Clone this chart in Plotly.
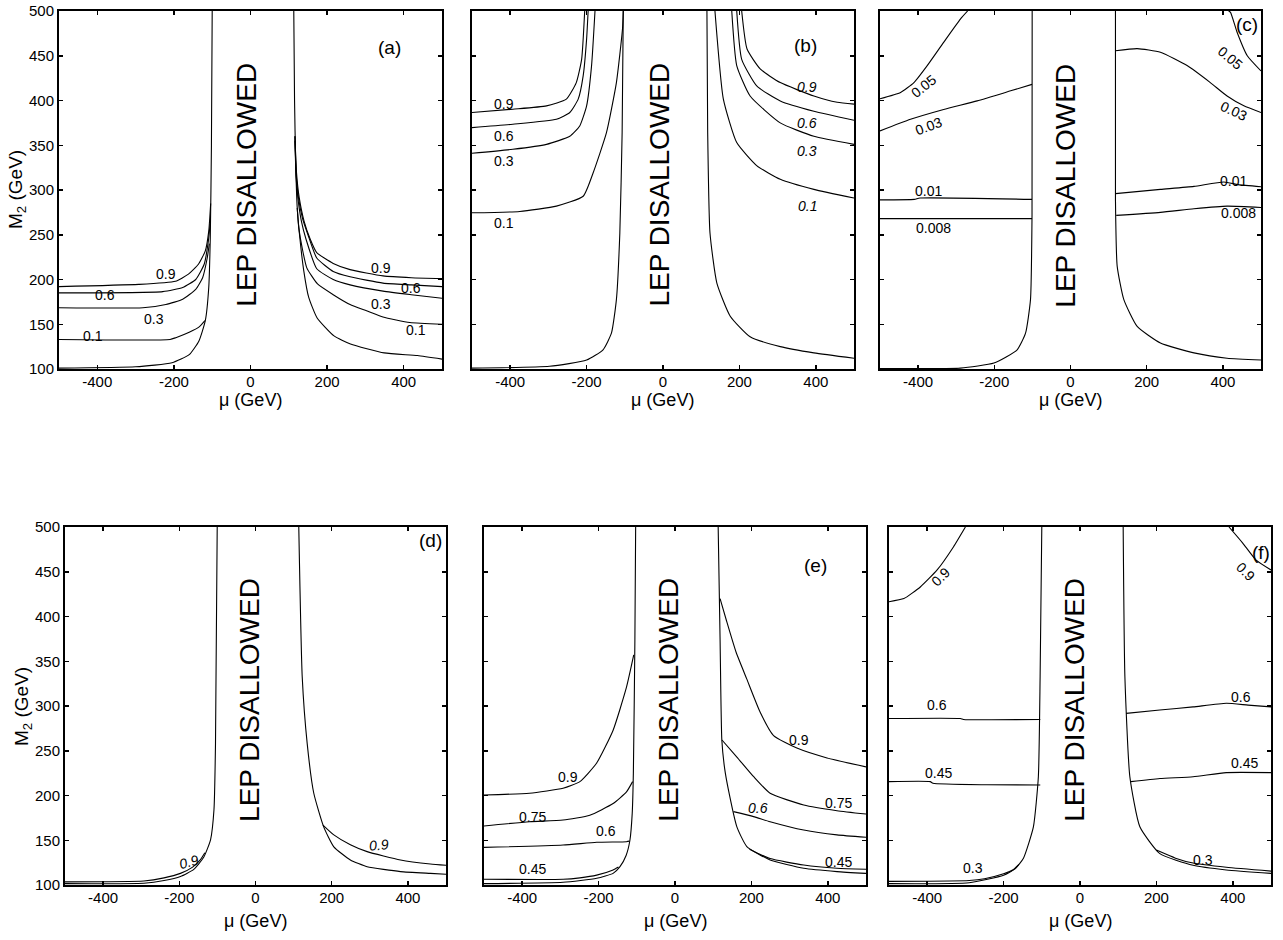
import plotly.graph_objects as go

W, H = 1283, 940

# ---------------- data: panel (a) ----------------
a_edge_left = [(-500,101),(-300,102.5),(-205,107),(-160,116),(-135,131),(-118,154),(-109,191),(-105,247),(-102,350),(-100,500)]
a_edge_right = [(113,500),(115,400),(118,330),(122,280),(128,250),(139,210),(152,180),(174,157),(218,137),(261,128),(349,118),(436,115),(500,111)]
a_c09_left = [(-500,192),(-292,194.5),(-196,198),(-162,206),(-136,217),(-118,232),(-109,254),(-104,285)]
a_c06_left = [(-500,185),(-229,186.5),(-177,191),(-143,200),(-121,217),(-110,243),(-105.5,262)]
a_c03_left = [(-500,168.5),(-281,168.5),(-221,172),(-177,178),(-143,189),(-125,202),(-113,224),(-107.5,240)]
a_c01_left = [(-500,133),(-210,133),(-195,135),(-160,141),(-134,147),(-119,154)]
a_c09_right = [(116,360),(120,320),(127,292),(140,265),(156,245),(173,230),(216,218),(260,211),(346,204),(420,202),(500,201)]
a_c06_right = [(116,360),(119,320),(125,292),(136,268),(150,250),(173,224),(216,209),(260,203),(346,196),(420,194),(500,192)]
a_c03_right = [(116,355),(119,315),(124,290),(133,265),(145,245),(173,212),(216,200),(260,194),(346,187),(420,183),(500,179)]
a_c01_right = [(122,280),(126,258),(135,235),(147,213),(175,195),(216,183),(260,172),(303,165),(346,158),(416,152),(500,150)]
a_labels = [("0.9",-221,206,0),("0.6",-381,183,0),("0.3",-251,156,0),("0.1",-411,137,0),
            ("0.9",342,213,0),("0.6",420,191,0),("0.3",342,173,0),("0.1",433,144,0)]

# ---------------- data: panel (b) ----------------
b_edge_left = [(-500,101),(-297,103),(-200,110),(-157,121.5),(-135,140),(-122,177.5),(-113,252),(-107,364),(-104,500)]
b_edge_right = [(115,500),(117,364),(123,252),(141,196),(176,159),(228,136),(307,125),(395,118),(500,112)]
b_c01_left = [(-500,274.5),(-375,276),(-279,282),(-209,293),(-183,319),(-148,364),(-122,420),(-106,480),(-104,500)]
b_c03_left = [(-500,341),(-393,345.5),(-305,351),(-244,360),(-218,371.6),(-200,394),(-187,439),(-178,500)]
b_c06_left = [(-500,369.7),(-393,373.5),(-279,379),(-244,386.6),(-222,401.5),(-209,427.5),(-200,468.6),(-196,500)]
b_c09_left = [(-500,386.6),(-393,390.3),(-305,394),(-253,401.5),(-227,420),(-213,446),(-205,500)]
b_c09_right = [(206,500),(220,457.5),(255,435),(307,420),(395,405),(456,398),(500,396)]
b_c06_right = [(193,500),(206,446),(246,416),(307,399.5),(395,388),(500,378)]
b_c03_right = [(180,500),(193,439),(228,405),(307,375),(395,360),(500,351)]
b_c01_right = [(136,500),(158,401.5),(193,353),(246,327),(307,312),(395,300.7),(500,291)]
b_labels = [("0.9",-415,396,0),("0.6",-415,360,0),("0.3",-415,332,0),("0.1",-415,263,0),
            ("<i>0.9</i>",377,414.6,0),("<i>0.6</i>",377,375,0),("<i>0.3</i>",377,343.6,0),("<i>0.1</i>",377,282,0)]

# ---------------- data: panel (c) ----------------
c_edge_left = [(-500,100.5),(-289,101),(-201,106.6),(-140,121.5),(-118,140),(-105,177.5),(-101,271),(-100.6,500)]
c_edge_right = [(118,500),(118,289.5),(122.5,215),(140,177.5),(175,147.6),(236,129),(324,118),(411,112),(500,110)]
c_c05_left = [(-500,402),(-446,409),(-411,420),(-376,439),(-333,465),(-289,491),(-270,500)]
c_c03_left = [(-500,366),(-420,379),(-333,390),(-245,399.6),(-157,410.8),(-101,418)]
c_c01_left = [(-500,289),(-410,289.5),(-395,291),(-101,289.5)]
c_c008_left = [(-500,268),(-101,268)]
c_c05_right = [(415,500),(420,498.5),(437.5,476),(464,450),(500,433)]
c_c03_right = [(118,455.6),(175,458),(236,454),(306,439),(367,420),(411,405),(455,394),(500,386.6)]
c_c01_right = [(118,296),(236,300.7),(324,304),(402.5,309),(440,306),(500,303.7)]
c_c008_right = [(120,271.6),(236,275),(324,279),(411,282),(500,280.5)]
c_labels = [("0.05",-385,416,-38),("0.03",-372,371.5,-20),("0.01",-372,299,0),("0.008",-359,258,0),
            ("0.05",420,448,40),("0.03",429,388,25),("0.01",429,310,0),("0.008",442,274.6,0)]

# ---------------- data: panel (d) ----------------
d_edge_left = [(-500,101.5),(-293,102),(-240,105),(-197,109.5),(-162,117.5),(-136,131),(-118,150.5),(-109,184),(-105,258),(-100.5,500)]
d_edge_right = [(113.6,500),(122.6,332.7),(135.7,258),(153,202.5),(179,165),(205.6,142.7),(249,128),(293,120.4),(380.6,115),(459,113),(500,112)]
d_c09_left = [(-500,103.5),(-293,104.5),(-240,108),(-197,113),(-165,120),(-145,128),(-133,136)]
d_c09_right = [(177,167),(205.6,156),(249,145),(293,137.3),(380.6,128),(459,123.5),(500,122)]
d_labels = [("<i>0.9</i>",-175,126,-15),("<i>0.9</i>",324,145,-5)]

# ---------------- data: panel (e) ----------------
e_edge_left = [(-500,101.5),(-293,103),(-205,107.5),(-162,113),(-144,120.5),(-128,133),(-118,150),(-112,180),(-109,225),(-105,374),(-103,500)]
e_edge_right = [(113,500),(118,374),(122.6,262),(130,230),(140,206),(162,165),(188,143),(249,128),(337,118.7),(424,115),(500,113)]
e_c045_left = [(-500,106.4),(-293,106.4),(-249,108),(-205,111),(-162,116.8),(-148,120)]
e_c06_left = [(-500,142),(-293,144.7),(-205,147.7),(-127,148.4),(-119,149)]
e_c075_left = [(-500,166),(-381,170.7),(-293,172.6),(-223,178),(-162,191),(-127,204),(-111,215.5)]
e_c09_left = [(-500,200.6),(-381,202.5),(-293,208),(-249,215.5),(-205.5,236),(-162,273),(-127,321),(-108,357)]
e_c045_right = [(195,140),(249,129.5),(337,122.3),(424,118.7),(500,117.6)]
e_c06_right = [(153,182),(205.6,176.4),(249,170.7),(337,161.4),(424,156),(500,153.3)]
e_c075_right = [(123,262),(162,243),(206,221),(249,202.5),(337,189.4),(424,183),(500,179.3)]
e_c09_right = [(118,420),(135,395),(160,360),(188,330),(223,293),(258,267),(319,253),(398,242),(500,232)]
e_labels = [("0.9",-281,221,0),("0.75",-372,176.4,0),("0.6",-180,160.7,0),("0.45",-372,117.6,0),
            ("0.9",324,262,0),("0.75",429,192,0),("<i>0.6</i>",218,185.7,0),("0.45",429,126,0)]

# ---------------- data: panel (f) ----------------
f_edge_left = [(-500,101.5),(-290,102.5),(-200,111),(-170,118),(-148,130),(-122,165),(-109,221),(-104.4,333),(-100,500)]
f_edge_right = [(113,500),(117.5,333),(130.5,221),(156.7,165),(209,135),(296,122),(383,116.8),(500,113)]
f_c03_left = [(-500,104),(-290,105),(-250,107),(-200,112.5),(-175,117),(-160,123)]
f_c03_right = [(200,139),(250,130),(296,124.5),(383,119.8),(500,115.5)]
f_c045_left = [(-500,215.5),(-392,215.5),(-385,213.7),(-244,212),(-104,211.7)]
f_c06_left = [(-500,286),(-313,286),(-305,285),(-104,285)]
f_c09_left = [(-500,416.5),(-461,420),(-418,433),(-374,452),(-331,478),(-300,500)]
f_c045_right = [(133,215.5),(209,219),(296,221),(383,225.6),(500,225.6)]
f_c06_right = [(121,291.8),(209,295.5),(296,299),(383,303),(440,301),(500,299)]
f_c09_right = [(390,500),(426,482),(461,463),(500,452)]
f_labels = [("0.9",-365,444,-45),("0.6",-374,301,0),("0.45",-370,225,0),("0.3",-279,119,0),
            ("0.6",422,310,0),("0.45",431,236.6,0),("0.3",322,128,0),("0.9",435,450,45)]

# panel tags and text positions
panel_tags = ["(a)", "(b)", "(c)", "(d)", "(e)", "(f)"]
tag_pos = [(364,459), (373,461), (464,485), (459,485), (367,457), (474,472)]
lep_pos = [(-9,306), (-8,306), (-14,305), (-14,307), (-16,307), (-13,307)]
x_ticks = [-400, -200, 0, 200, 400]
x_ticktext = ["-400", "-200", "0", "200", "400"]
y_ticks = [100, 150, 200, 250, 300, 350, 400, 450, 500]

# screen pixel boxes (left, right, top, bottom) for each panel
boxes = [(59,442,11,369), (472,854,11,369), (880,1261,11,369),
         (65,446,527,885), (484,866,527,885), (889,1271,527,885)]

panel_curves = [
    [a_edge_left, a_edge_right, a_c09_left, a_c06_left, a_c03_left, a_c01_left,
     a_c09_right, a_c06_right, a_c03_right, a_c01_right],
    [b_edge_left, b_edge_right, b_c01_left, b_c03_left, b_c06_left, b_c09_left,
     b_c09_right, b_c06_right, b_c03_right, b_c01_right],
    [c_edge_left, c_edge_right, c_c05_left, c_c03_left, c_c01_left, c_c008_left,
     c_c05_right, c_c03_right, c_c01_right, c_c008_right],
    [d_edge_left, d_edge_right, d_c09_left, d_c09_right],
    [e_edge_left, e_edge_right, e_c045_left, e_c06_left, e_c075_left, e_c09_left,
     e_c045_right, e_c06_right, e_c075_right, e_c09_right],
    [f_edge_left, f_edge_right, f_c03_left, f_c03_right, f_c045_left, f_c06_left,
     f_c09_left, f_c045_right, f_c06_right, f_c09_right],
]
panel_labels = [a_labels, b_labels, c_labels, d_labels, e_labels, f_labels]

SANS = "Liberation Sans, Arial, sans-serif"


def fx(px):
    return px / W


def fy(py):
    return 1 - py / H


fig = go.Figure()
layout = dict(width=W, height=H, margin=dict(l=0, r=0, t=0, b=0),
              paper_bgcolor="white", plot_bgcolor="white", showlegend=False,
              hovermode=False)
annotations = []

for i in range(6):
    n = i + 1
    sfx = "" if n == 1 else str(n)
    L, R, T, B = boxes[i]
    axis_common = dict(showline=True, linecolor="black", linewidth=2, mirror="ticks",
                       ticks="inside", ticklen=4, tickwidth=1.5, tickcolor="black",
                       showgrid=False, zeroline=False, automargin=False,
                       ticklabeloverflow="allow",
                       tickfont=dict(family=SANS, size=15, color="black"))
    layout["xaxis" + sfx] = dict(axis_common, domain=[fx(L), fx(R)], range=[-500, 500],
                                 tickvals=x_ticks, ticktext=x_ticktext, anchor="y" + sfx,
                                 ticklabelstandoff=-2)
    layout["yaxis" + sfx] = dict(axis_common, domain=[fy(B), fy(T)], range=[100, 500],
                                 tickvals=y_ticks, anchor="x" + sfx,
                                 showticklabels=(i in (0, 3)))
    for pts in panel_curves[i]:
        fig.add_trace(go.Scatter(x=[p[0] for p in pts], y=[p[1] for p in pts], mode="lines",
                                 line=dict(color="black", width=1.1, shape="spline", smoothing=0.5),
                                 xaxis="x" + sfx, yaxis="y" + sfx, hoverinfo="skip"))
    for txt, lx, ly, ang in panel_labels[i]:
        annotations.append(dict(text=txt, x=lx, y=ly, xref="x" + sfx, yref="y" + sfx,
                                xanchor="center", yanchor="middle",
                                showarrow=False, textangle=ang,
                                font=dict(family=SANS, size=14, color="black")))
    tx, ty = tag_pos[i]
    annotations.append(dict(text=panel_tags[i], x=tx, y=ty, xref="x" + sfx, yref="y" + sfx,
                            xanchor="center", yanchor="middle",
                            showarrow=False, font=dict(family=SANS, size=19, color="black")))
    lx, ly = lep_pos[i]
    annotations.append(dict(text="LEP DISALLOWED", x=lx, y=ly, xref="x" + sfx, yref="y" + sfx,
                            xanchor="center", yanchor="middle",
                            showarrow=False, textangle=-90,
                            font=dict(family=SANS, size=28, color="black")))
    # x-axis title
    title_y = 400 if i < 3 else 921
    annotations.append(dict(text="\u03bc (GeV)", x=fx((L + R) / 2), y=fy(title_y),
                            xref="paper", yref="paper", xanchor="center", yanchor="middle",
                            showarrow=False,
                            font=dict(family=SANS, size=18, color="black")))

# y-axis titles
for (px, py) in [(17, 190), (23, 707)]:
    annotations.append(dict(text="M<sub>2</sub> (GeV)", x=fx(px), y=fy(py),
                            xref="paper", yref="paper", xanchor="center", yanchor="middle",
                            showarrow=False, textangle=-90,
                            font=dict(family=SANS, size=19, color="black")))

layout["annotations"] = annotations
fig.update_layout(**layout)
# remove the default 8px page margin so the figure sits at the window's top-left corner
fig.write_html("out.html", config={"displayModeBar": False, "staticPlot": True},
               post_script="document.body.style.margin='0';")
